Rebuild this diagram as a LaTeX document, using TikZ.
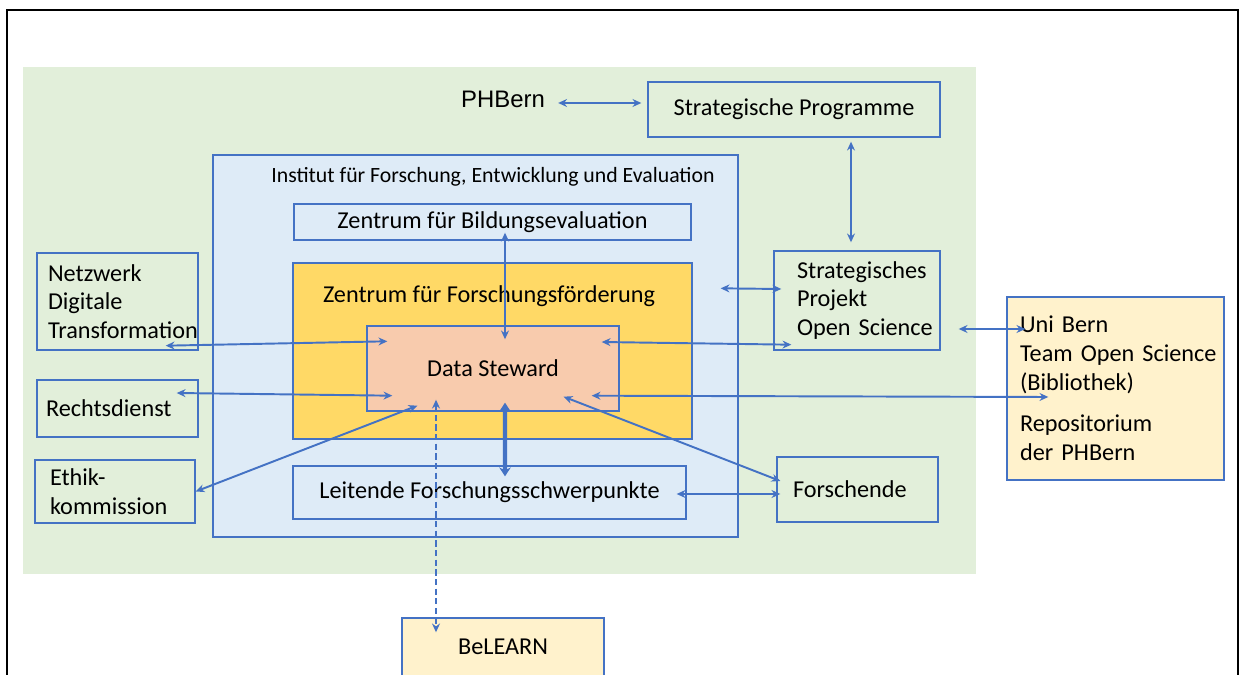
\documentclass[tikz,border=0pt]{standalone}
\usepackage{fontspec}
\setmainfont{Carlito}
\newfontfamily\arialfont{Liberation Sans}
\usetikzlibrary{arrows.meta,calc}
\definecolor{lineblue}{HTML}{4472C4}
\definecolor{pagegreen}{HTML}{E2EFDA}
\definecolor{ifeeblue}{HTML}{DEEBF7}
\definecolor{zffgold}{HTML}{FFD966}
\definecolor{dssalmon}{HTML}{F8CBAD}
\definecolor{cream}{HTML}{FFF2CC}
\newcommand\nohyph{\hyphenpenalty 10000\relax}
\tikzset{every picture/.append style={>={Stealth[length=5pt,width=4.5pt]}}}

\begin{document}
\begin{tikzpicture}[x=0.02cm,y=-0.02cm]
      \tikzstyle{box}=[draw=lineblue,line width=0.8pt,inner sep=0pt,font=\nohyph\fontsize{13.8}{16.4}\selectfont]
      \tikzstyle{link}=[<->,draw=lineblue,line width=1.1pt]
      \useasboundingbox (0,0) rectangle (1242,675);
      \fill[pagegreen] (23,67) rectangle (976,574);
      \draw[line width=1.4pt] (7,675) -- (7,10) -- (1238,10) -- (1238,675);
      % PHBern and its programmes
      \node[inner sep=0pt,font=\arialfont\fontsize{13.6}{16}\selectfont] (phb) at (503,99) {PHBern};
      \node[box,minimum width=5.84cm,minimum height=1.1cm] (sp) at (794,109.5) {Strategische Programme};
      % institute
      \node[box,fill=ifeeblue,minimum width=10.5cm,minimum height=7.64cm] (ifee) at (475.5,346) {};
      \node[inner sep=0pt,font=\fontsize{12.4}{14}\selectfont] (ifeetitle) at (493,177) {Institut für Forschung, Entwicklung und Evaluation};
      \node[box,minimum width=7.94cm,minimum height=0.72cm] (zfb) at (492.5,222) {Zentrum für Bildungsevaluation};
      \node[box,fill=zffgold,minimum width=7.98cm,minimum height=3.52cm] (zff) at (492.5,351) {};
      \node[inner sep=0pt,font=\fontsize{13.8}{16}\selectfont] (zfftitle) at (489,296) {Zentrum für Forschungsförderung};
      \node[box,fill=dssalmon,minimum width=5.04cm,minimum height=1.7cm] (ds) at (493,368.5) {Data Steward};
      \node[box,minimum width=7.86cm,minimum height=1.06cm] (lfs) at (489.5,492.5) {Leitende Forschungsschwerpunkte};
      % partners
      \node[box,align=left,text width=2.78cm,inner xsep=0.22cm,minimum height=1.94cm] (nw) at (117.5,301.5) {Netzwerk\\Digitale\\Transformation};
      \node[box,align=left,text width=2.86cm,inner xsep=0.18cm,minimum height=1.14cm] (rd) at (117.5,408.5) {Rechtsdienst};
      \node[box,align=left,text width=2.6cm,inner xsep=0.3cm,minimum height=1.26cm] (ek) at (115,491.5) {Ethik-\\kommission};
      \node[box,align=left,text width=2.4cm,inner xsep=0.46cm,minimum height=1.98cm] (spos) at (857,300.5) {Strategisches\\Projekt\\Open~Science};
      \node[box,align=left,text width=2.58cm,inner xsep=0.32cm,minimum height=1.3cm] (fo) at (857.5,489.5) {Forschende};
      \node[box,fill=cream,align=left,text width=3.82cm,inner xsep=0.26cm,minimum height=3.66cm] (ub) at (1115.5,388.5) {Uni~Bern\\Team~Open~Science\\(Bibliothek)\\[7pt]Repositorium\\der~PHBern};
      \node[box,fill=cream,minimum width=4.04cm,minimum height=1.16cm] (bl) at (503,647) {BeLEARN};
      % links
      \draw ($(phb.east)+(13,4)$) edge[link] ($(sp.west)+(-6,-6.5)$);
      \draw ($(sp.south)+(57,4)$) edge[link] ($(spos.north)+(-6,-8)$);
      \draw ($(zfb.south)+(12.5,-8)$) edge[link] ($(ds.north)+(12,14)$);
      \draw ($(nw.south east)+(-33,-5)$) edge[link] ($(ds.north west)+(21,16)$);
      \draw ($(ifee.north east)+(-18,134)$) edge[link] ($(spos.west)+(8,-11.5)$);
      \draw ($(ds.east)+(-18,-26.5)$) edge[link] ($(spos.south west)+(18,-6)$);
      \draw ($(spos.east)+(18,28.5)$) edge[link] ($(ub.west)+(19,-59.5)$);
      \draw ($(rd.east)+(-22,-15.5)$) edge[link] ($(ds.south west)+(26,-16)$);
      \draw ($(ds.south east)+(-28,-16)$) edge[link] ($(ub.west)+(42,8.5)$);
      \draw (ek.east) edge[link] ($(ds.south west)+(51,-6)$);
      \draw ($(ds.south east)+(-56,-15)$) edge[link] ($(fo.west)+(4,-8.5)$);
      \draw ($(lfs.east)+(-10,1.5)$) edge[link] ($(fo.west)+(4,4.5)$);
      \draw ($(ds.south)+(12,-9)$) edge[link,line width=2.3pt,>={Stealth[length=5pt,width=6.5pt]}] ($(lfs.north)+(15.5,11)$);
      \draw ($(ds.south)+(-57,-12)$) edge[link,dash pattern=on 3.5pt off 2pt] ($(bl.north)+(-67,15)$);
    \end{tikzpicture}
\end{document}
